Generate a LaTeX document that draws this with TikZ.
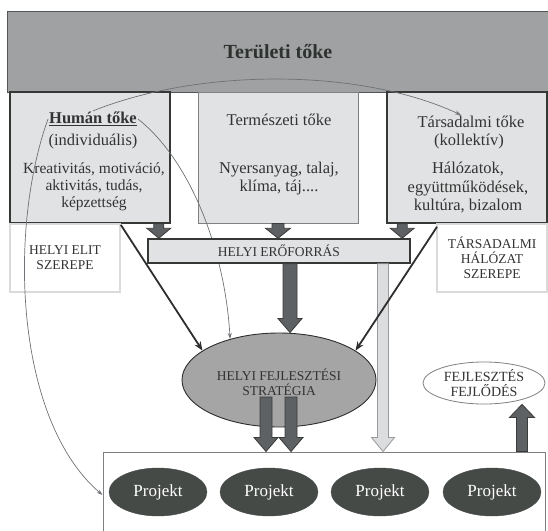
\documentclass[tikz,border=0pt]{standalone}
\usepackage{fontspec}
\setmainfont{Liberation Serif}
\usetikzlibrary{arrows.meta,shapes.geometric,calc}
\definecolor{topfill}{HTML}{A0A1A3}
\definecolor{topline}{HTML}{555555}
\definecolor{toptext}{HTML}{2E322E}
\definecolor{boxfill}{HTML}{E1E2E3}
\definecolor{boxline}{HTML}{363836}
\definecolor{natline}{HTML}{808080}
\definecolor{labline}{HTML}{DADADA}
\definecolor{txtc}{HTML}{333333}
\definecolor{darkarr}{HTML}{5E6163}
\definecolor{darkout}{HTML}{3A3C3A}
\definecolor{lightarr}{HTML}{DCDDDE}
\definecolor{lightout}{HTML}{9A9A9A}
\definecolor{ellfill}{HTML}{A5A5A5}
\definecolor{projfill}{HTML}{464A47}
\definecolor{thinc}{HTML}{6E7175}
\definecolor{thickc}{HTML}{2E2E2E}
% #1 style, #2 tail, #3 tip, #4 shaft half width, #5 head half width, #6 head length
\newcommand\blockarrow[6]{%
  \path[#1] let \p1=#2, \p2=#3, \n1={ifthenelse(\y2<\y1,1,-1)} in
    ({\x1-#4},\y1) -- ({\x1+#4},\y1) -- ({\x1+#4},{\y2+(\n1)*#6})
    -- ({\x1+#5},{\y2+(\n1)*#6}) -- (\x1,\y2) -- ({\x1-#5},{\y2+(\n1)*#6})
    -- ({\x1-#4},{\y2+(\n1)*#6}) -- cycle;}
\begin{document}
\begin{tikzpicture}[x=1pt,y=-1pt,
  txt/.style={text=txtc, align=center, inner sep=1pt},
  bodyfont/.style={font=\fontsize{16.5}{18.5}\selectfont},
  capfont/.style={font=\fontsize{13.5}{15}\selectfont},
  capbox/.style={draw=boxline, line width=1.6pt, fill=boxfill, minimum width=160pt, minimum height=131pt, inner sep=0pt},
  natbox/.style={draw=natline, line width=0.8pt, fill=boxfill, minimum width=160pt, minimum height=131pt, inner sep=0pt},
  labbox/.style={draw=labline, line width=1.2pt, fill=white, minimum width=110pt, minimum height=68pt, inner sep=0pt, txt, capfont},
  darkblock/.style={fill=darkarr, draw=darkout, line width=0.8pt},
  lightblock/.style={fill=lightarr, draw=lightout, line width=0.8pt},
  thinarrow/.style={draw=thinc, line width=0.7pt, -{Stealth[length=6pt,width=4pt]}},
  thickarrow/.style={draw=thickc, line width=1.8pt, -{Stealth[length=9pt,width=7pt]}},
  projell/.style={ellipse, fill=projfill, draw=projfill, minimum width=98pt, minimum height=48pt, inner sep=0pt, text=white, font=\fontsize{17}{19}\selectfont}
]
\useasboundingbox (0,0) rectangle (548,530);
% top
\node[draw=topline, line width=0.8pt, fill=topfill, minimum width=542pt, minimum height=81pt, inner sep=0pt, font=\bfseries\fontsize{20}{24}\selectfont, text=toptext] (top) at (278,51.5) {Területi tőke};
% capital boxes
\node[capbox] (hum) at (90,157.5) {};
\node[natbox] (nat) at (278,157.5) {};
\node[capbox] (tar) at (467,157.5) {};
% texts
\node[txt, font=\bfseries\fontsize{16.5}{19}\selectfont] (ht) at (93,119) {\underline{Humán tőke}};
\node[txt, bodyfont] (hi) at (93,142) {(individuális)};
\node[txt, font=\fontsize{15.5}{17.2}\selectfont] (hk) at (94,187) {Kreativitás, motiváció,\\aktivitás, tudás,\\képzettség};
\node[txt, bodyfont] (nt) at (279,120) {Természeti tőke};
\node[txt, font=\fontsize{16.5}{18}\selectfont] (nd) at (279,179) {Nyersanyag, talaj,\\klíma, táj....};
\node[txt, bodyfont] (tt) at (471,122) {Társadalmi tőke};
\node[txt, bodyfont] (tk) at (469,142) {(kollektív)};
\node[txt, font=\fontsize{16.5}{18.5}\selectfont] (td) at (468,188) {Hálózatok,\\együttműködések,\\kultúra, bizalom};
% label boxes
\node[labbox] (elit) at (65,258) {HELYI ELIT\\SZEREPE};
\node[labbox] (tham) at (492,258) {TÁRSADALMI\\HÁLÓZAT\\SZEREPE};
% strategy ellipse, other nodes
\node[ellipse, draw=thickc, line width=0.9pt, fill=ellfill, minimum width=194pt, minimum height=94pt, inner sep=0pt] (hfs) at (279,380) {};
\node[txt, capfont] (hfst) at (279,382) {HELYI FEJLESZTÉSI\\STRATÉGIA};
\node[ellipse, draw=natline, line width=0.8pt, fill=white, minimum width=122pt, minimum height=42pt, inner sep=0pt, txt, font=\fontsize{14}{14.5}\selectfont] (fej) at (484,383) {FEJLESZTÉS\\FEJLŐDÉS};
\node[draw=natline, line width=1pt, fill=white, minimum width=442pt, minimum height=86pt, inner sep=0pt] (proj) at (324,495) {};
\node[projell] (p1) at (158,492) {Projekt};
\node[projell] (p2) at (269,492) {Projekt};
\node[projell] (p3) at (380,492) {Projekt};
\node[projell] (p4) at (492,492) {Projekt};
% thin curved connectors
\draw[thinarrow] (ht.north) .. controls (200,68) and (360,68) .. ([xshift=-10pt]tt.north);
\draw[thinarrow] (ht.east) .. controls (190,160) and (225,250) .. (hfs.140);
\draw[thinarrow] (ht.west) .. controls (8,230) and (15,420) .. (proj.west);
% resource bar
\node[draw=boxline, line width=1.5pt, fill=boxfill, minimum width=262pt, minimum height=24pt, inner sep=0pt, txt, capfont] (bar) at (279,251) {HELYI ERŐFORRÁS};
% block arrows
\coordinate (a1) at ([xshift=-12pt]hum.south east);
\coordinate (a2) at (nat.south);
\coordinate (a3) at ([xshift=16pt]tar.south west);
\coordinate (a4) at ([xshift=11pt]bar.south);
\coordinate (a5) at ([xshift=104pt]bar.south);
\coordinate (a6) at ([xshift=-13pt,yshift=-17pt]hfs.center);
\coordinate (a7) at ([xshift=12pt,yshift=-17pt]hfs.center);
\coordinate (a8) at ([xshift=-23.5pt]proj.north east);
\blockarrow{darkblock}{(a1)}{(a1 |- bar.north)}{5}{12}{10}
\blockarrow{darkblock}{(a2)}{(a2 |- bar.north)}{6}{12.5}{10}
\blockarrow{darkblock}{(a3)}{(a3 |- bar.north)}{5}{12}{10}
\blockarrow{darkblock}{(a4)}{(a4 |- hfs.north)}{7}{12}{14}
\blockarrow{lightblock}{(a5)}{(a5 |- proj.north)}{5.5}{11.5}{14}
\blockarrow{darkblock}{(a6)}{(a6 |- proj.north)}{6}{12}{14}
\blockarrow{darkblock}{(a7)}{(a7 |- proj.north)}{6}{12}{14}
\blockarrow{darkblock}{(a8)}{(a8 |- fej.south)}{5.5}{12.5}{13}
% thick connectors
\draw[thickarrow] ([xshift=-50pt,yshift=-1pt]hum.south east) -- (hfs.159);
\draw[thickarrow] ([xshift=-30pt,yshift=-3pt]tar.south) -- (hfs.21);
\end{tikzpicture}
\end{document}
